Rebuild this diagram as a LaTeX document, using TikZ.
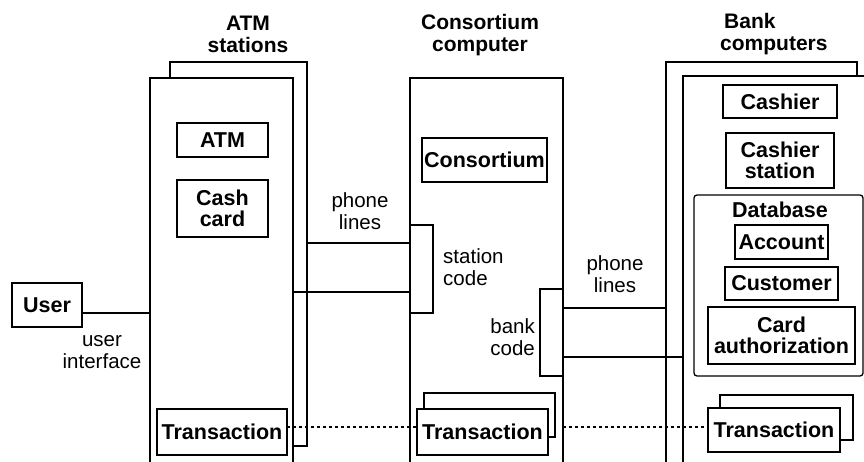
\documentclass[tikz,border=0pt]{standalone}
\usepackage{fontspec}
\setmainfont{Liberation Sans}
\begin{document}
\begin{tikzpicture}[x=1pt,y=-1pt,
  lw/.style={line width=1.3pt},
  frame/.style={draw,lw,fill=white,inner sep=0pt,outer sep=0pt,minimum width=#1},
  cls/.style={draw,lw,fill=white,inner sep=0pt,outer sep=0pt,align=center,
     font=\fontsize{21.5}{20.5}\selectfont\bfseries},
  lbl/.style={inner sep=0pt,align=center,font=\fontsize{20.5}{22}\selectfont},
  head/.style={inner sep=0pt,align=center,font=\fontsize{21}{22}\selectfont\bfseries},
  conn/.style={lw},
  dots/.style={lw,dash pattern=on 2.5pt off 3.5pt}]
\useasboundingbox (0,0) rectangle (864,461);
\clip (0,0) rectangle (864,461);
% coordinates for connector heights
\coordinate (yuser) at (0,313);
\coordinate (yp1) at (0,243);
\coordinate (yp2) at (0,292);
\coordinate (yp3) at (0,308);
\coordinate (yp4) at (0,357);
\coordinate (ydot) at (0,427);
% headings
\node[head] (hatm) at (248,34) {ATM\\stations};
\node[head] (hcons) at (480,35) {Consortium\\computer};
\node[head,align=left,anchor=west] (hbank) at (720,34) {\hspace{4pt}Bank\\computers};
% ATM stations
\node[frame=137pt,minimum height=384pt] (atmback) at (238.5,254) {};
\node[frame=143pt,minimum height=392pt] (atmfront) at (221.5,274) {};
\node[cls,minimum width=91pt,minimum height=34pt] (atm) at (222.5,140) {ATM};
\node[cls,minimum width=91pt,minimum height=57pt] (cash) at (222.5,208.5) {Cash\\card};
\node[cls,minimum width=130pt,minimum height=46pt] (atmtrans) at (222,432) {Transaction};
% Consortium
\node[frame=153pt,minimum height=392pt] (cons) at (486.5,274) {};
\node[cls,minimum width=125pt,minimum height=44pt] (consortium) at (484.5,160) {Consortium};
\node[frame=23pt,minimum height=88pt] (stcode) at (421.5,269) {};
\node[frame=23pt,minimum height=87pt] (bkcode) at (551.5,332.5) {};
\node[cls,minimum width=131pt,minimum height=44pt] (constransb) at (489.5,415) {};
\node[cls,minimum width=131pt,minimum height=46pt] (constrans) at (482.5,432) {Transaction};
% Bank computers
\node[frame=191pt,minimum height=418pt] (bankback) at (761.5,271) {};
\node[frame=217pt,minimum height=404pt] (bankfront) at (791.5,278) {};
\node[cls,minimum width=114pt,minimum height=33pt] (cashier) at (780,101.5) {Cashier};
\node[cls,minimum width=108pt,minimum height=55pt] (cashst) at (780,160.5) {Cashier\\station};
\node[frame=169pt,minimum height=181pt,rounded corners=3pt] (db) at (778.5,285.5) {};
\node[head,font=\fontsize{21.5}{22}\selectfont\bfseries] (dblabel) at (780,210) {Database};
\node[cls,minimum width=93pt,minimum height=34pt] (account) at (781.5,242) {Account};
\node[cls,minimum width=113pt,minimum height=33pt] (customer) at (781.5,283.5) {Customer};
\node[cls,minimum width=147pt,minimum height=57pt] (cardauth) at (781.5,335.5) {Card\\authorization};
\node[cls,minimum width=133pt,minimum height=45pt] (banktransb) at (786.5,417.5) {};
\node[cls,minimum width=132pt,minimum height=44pt] (banktrans) at (774,430) {Transaction};
% User
\node[cls,minimum width=70pt,minimum height=44pt] (user) at (47,305) {User};
% connectors
\draw[conn] (user.east |- yuser) -- (atmfront.west |- yuser);
\draw[conn] (atmback.east |- yp1) -- (stcode.west |- yp1);
\draw[conn] (atmfront.east |- yp2) -- (stcode.west |- yp2);
\draw[conn] (bkcode.east |- yp3) -- (bankback.west |- yp3);
\draw[conn] (bkcode.east |- yp4) -- (bankfront.west |- yp4);
\draw[dots] (atmtrans.east |- ydot) -- (constrans.west |- ydot);
\draw[dots] (cons.east |- ydot) -- (banktrans.west |- ydot);
% labels
\node[lbl] (luser) at (102,352) {user\\interface};
\node[lbl] (lph1) at (360,211) {phone\\lines};
\node[lbl,align=left,anchor=west] (lst) at (443,267) {station\\code};
\node[lbl,align=right,anchor=east] (lbk) at (535,337) {bank\\code};
\node[lbl] (lph2) at (615,274) {phone\\lines};
\end{tikzpicture}
\end{document}
